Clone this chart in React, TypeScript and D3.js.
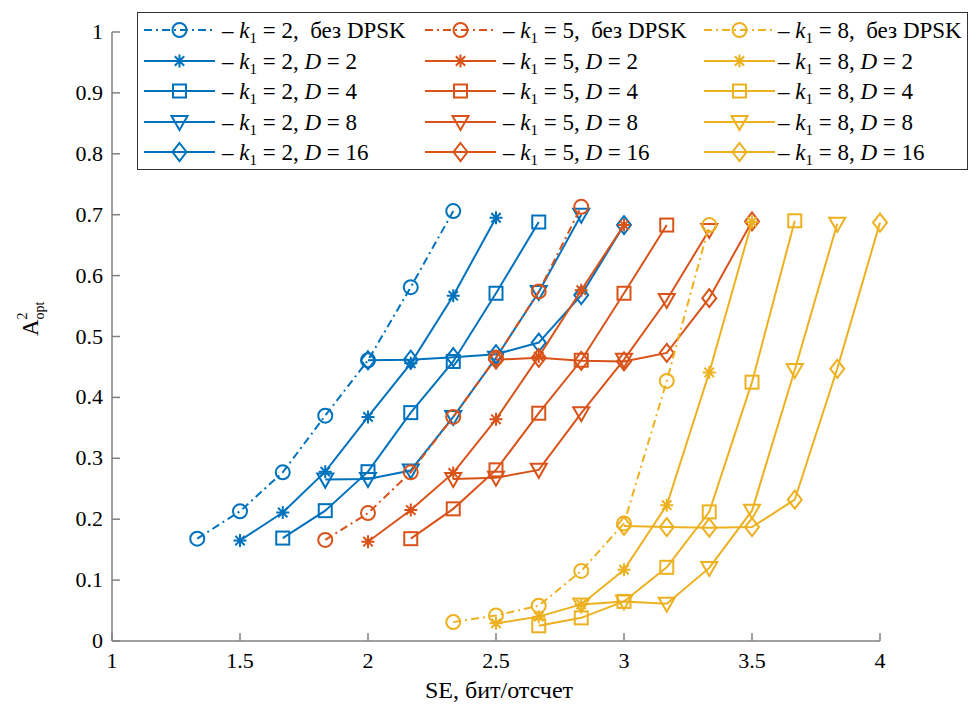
import React from 'react';
import * as d3 from 'd3';

const W = 971;
const H = 708;

const BLUE = '#0072BD';
const ORANGE = '#D95319';
const YELLOW = '#EDB120';

// x tick values / labels
const xTicks = [1, 1.5, 2, 2.5, 3, 3.5, 4];
const xTickLabels = ['1', '1.5', '2', '2.5', '3', '3.5', '4'];
const yTicks = [0, 0.1, 0.2, 0.3, 0.4, 0.5, 0.6, 0.7, 0.8, 0.9, 1];
const yTickLabels = ['0', '0.1', '0.2', '0.3', '0.4', '0.5', '0.6', '0.7', '0.8', '0.9', '1'];

// k1 = 2 (blue)
const xB0 = [1.333, 1.5, 1.667, 1.833, 2.0, 2.167, 2.333];
const yB0 = [0.168, 0.213, 0.277, 0.370, 0.461, 0.581, 0.706];
const xB2 = [1.5, 1.667, 1.833, 2.0, 2.167, 2.333, 2.5];
const yB2 = [0.165, 0.211, 0.278, 0.368, 0.456, 0.567, 0.695];
const xB4 = [1.667, 1.833, 2.0, 2.167, 2.333, 2.5, 2.667];
const yB4 = [0.169, 0.214, 0.278, 0.375, 0.459, 0.571, 0.688];
const xB8 = [1.833, 2.0, 2.167, 2.333, 2.5, 2.667, 2.833];
const yB8 = [0.265, 0.266, 0.280, 0.368, 0.465, 0.573, 0.700];
const xB16 = [2.0, 2.167, 2.333, 2.5, 2.667, 2.833, 3.0];
const yB16 = [0.461, 0.462, 0.466, 0.471, 0.490, 0.568, 0.683];

// k1 = 5 (orange)
const xO0 = [1.833, 2.0, 2.167, 2.333, 2.5, 2.667, 2.833];
const yO0 = [0.166, 0.210, 0.277, 0.368, 0.465, 0.574, 0.713];
const xO2 = [2.0, 2.167, 2.333, 2.5, 2.667, 2.833, 3.0];
const yO2 = [0.163, 0.215, 0.276, 0.364, 0.467, 0.576, 0.683];
const xO4 = [2.167, 2.333, 2.5, 2.667, 2.833, 3.0, 3.167];
const yO4 = [0.168, 0.217, 0.281, 0.374, 0.461, 0.571, 0.683];
const xO8 = [2.333, 2.5, 2.667, 2.833, 3.0, 3.167, 3.333];
const yO8 = [0.266, 0.268, 0.281, 0.374, 0.462, 0.560, 0.675];
const xO16 = [2.5, 2.667, 2.833, 3.0, 3.167, 3.333, 3.5];
const yO16 = [0.462, 0.465, 0.460, 0.459, 0.473, 0.563, 0.689];

// k1 = 8 (yellow)
const xY0 = [2.333, 2.5, 2.667, 2.833, 3.0, 3.167, 3.333];
const yY0 = [0.031, 0.042, 0.058, 0.115, 0.193, 0.427, 0.683];
const xY2 = [2.5, 2.667, 2.833, 3.0, 3.167, 3.333, 3.5];
const yY2 = [0.029, 0.040, 0.060, 0.117, 0.223, 0.441, 0.688];
const xY4 = [2.667, 2.833, 3.0, 3.167, 3.333, 3.5, 3.667];
const yY4 = [0.025, 0.038, 0.065, 0.121, 0.212, 0.425, 0.690];
const xY8 = [2.833, 3.0, 3.167, 3.333, 3.5, 3.667, 3.833];
const yY8 = [0.060, 0.065, 0.061, 0.120, 0.214, 0.445, 0.685];
const xY16 = [3.0, 3.167, 3.333, 3.5, 3.667, 3.833, 4.0];
const yY16 = [0.189, 0.187, 0.186, 0.187, 0.232, 0.447, 0.687];

const k1Values = ['2', '5', '8'];
const dLabels = ['без DPSK', '2', '4', '8', '16'];

type Series = { xs: number[]; ys: number[]; color: string; marker: string; dashed: boolean; k1: string; d: string };

const mk = (xs: number[], ys: number[], color: string, marker: string, dashed: boolean, k1: string, d: string): Series =>
  ({ xs, ys, color, marker, dashed, k1, d });

const columns: Series[][] = [
  [
    mk(xB0, yB0, BLUE, 'o', true, k1Values[0], dLabels[0]),
    mk(xB2, yB2, BLUE, '*', false, k1Values[0], dLabels[1]),
    mk(xB4, yB4, BLUE, 's', false, k1Values[0], dLabels[2]),
    mk(xB8, yB8, BLUE, 'v', false, k1Values[0], dLabels[3]),
    mk(xB16, yB16, BLUE, 'd', false, k1Values[0], dLabels[4]),
  ],
  [
    mk(xO0, yO0, ORANGE, 'o', true, k1Values[1], dLabels[0]),
    mk(xO2, yO2, ORANGE, '*', false, k1Values[1], dLabels[1]),
    mk(xO4, yO4, ORANGE, 's', false, k1Values[1], dLabels[2]),
    mk(xO8, yO8, ORANGE, 'v', false, k1Values[1], dLabels[3]),
    mk(xO16, yO16, ORANGE, 'd', false, k1Values[1], dLabels[4]),
  ],
  [
    mk(xY0, yY0, YELLOW, 'o', true, k1Values[2], dLabels[0]),
    mk(xY2, yY2, YELLOW, '*', false, k1Values[2], dLabels[1]),
    mk(xY4, yY4, YELLOW, 's', false, k1Values[2], dLabels[2]),
    mk(xY8, yY8, YELLOW, 'v', false, k1Values[2], dLabels[3]),
    mk(xY16, yY16, YELLOW, 'd', false, k1Values[2], dLabels[4]),
  ],
];

const FONT = 'Liberation Serif';
const DASH = '8,4,2,4';
const LW = 2;
const NB = '\u00A0';

function Marker({ type, cx, cy, color }: { type: string; cx: number; cy: number; color: string }) {
  const common = { fill: 'none', stroke: color, strokeWidth: LW };
  if (type === 'o') return <circle cx={cx} cy={cy} r={7} {...common} />;
  if (type === 's') return <rect x={cx - 6.5} y={cy - 6.5} width={13} height={13} {...common} />;
  if (type === 'v') {
    const p = `M${cx - 8},${cy - 6} L${cx + 8},${cy - 6} L${cx},${cy + 8} Z`;
    return <path d={p} {...common} />;
  }
  if (type === 'd') {
    const p = `M${cx},${cy - 9} L${cx + 7},${cy} L${cx},${cy + 9} L${cx - 7},${cy} Z`;
    return <path d={p} {...common} />;
  }
  // asterisk
  const r = 6.5;
  const q = r * 0.72;
  const p = `M${cx},${cy - r} L${cx},${cy + r} M${cx - r},${cy} L${cx + r},${cy} M${cx - q},${cy - q} L${cx + q},${cy + q} M${cx - q},${cy + q} L${cx + q},${cy - q}`;
  return <path d={p} fill="none" stroke={color} strokeWidth={LW} />;
}

export default function App() {
  const x = d3.scaleLinear().domain([1, 4]).range([112, 880]);
  const y = d3.scaleLinear().domain([0, 1]).range([641, 32]);
  const line = d3.line<[number, number]>().x((d) => x(d[0])).y((d) => y(d[1]));

  const legendX0 = [144, 425, 704];
  const legendTextX = [222, 503, 778];
  const legendRowY = [30, 61, 91, 122, 152];
  const sampleLen = 71;

  const allSeries = columns.flat();

  return (
    <svg width={W} height={H} fontFamily={FONT} style={{ position: 'absolute', left: 0, top: 0, background: '#fff' }}>
      <style>{`text, tspan { font-family: 'Liberation Serif'; }`}</style>
      <rect x={0} y={0} width={W} height={H} fill="#fff" />
      {/* axes */}
      <line x1={x(1)} x2={x(4)} y1={y(0)} y2={y(0)} stroke="#808080" strokeWidth={1.5} />
      <line x1={x(1)} x2={x(1)} y1={y(0)} y2={y(1)} stroke="#808080" strokeWidth={1.5} />
      {xTicks.map((t, i) => (
        <g key={'xt' + i}>
          <line x1={x(t)} x2={x(t)} y1={y(0)} y2={y(0) - 8} stroke="#808080" strokeWidth={1.5} />
          <text fontFamily={FONT} x={x(t)} y={y(0) + 27} textAnchor="middle" fontSize={22} fill="#000">{xTickLabels[i]}</text>
        </g>
      ))}
      {yTicks.map((t, i) => (
        <g key={'yt' + i}>
          <line x1={x(1)} x2={x(1) + 8} y1={y(t)} y2={y(t)} stroke="#808080" strokeWidth={1.5} />
          <text fontFamily={FONT} x={x(1) - 9} y={y(t) + 7} textAnchor="end" fontSize={22} fill="#000">{yTickLabels[i]}</text>
        </g>
      ))}
      <text fontFamily={FONT} x={(x(1) + x(4)) / 2 + 3} y={698} textAnchor="middle" fontSize={24} fill="#000">SE, бит/отсчет</text>
      <text fontFamily={FONT} transform="translate(38,336) rotate(-90)" fontSize={23} fill="#000">
        A<tspan fontSize={14} dy={-11}>2</tspan><tspan fontSize={14} dx={-7} dy={17}>opt</tspan>
      </text>

      {/* data */}
      {allSeries.map((s, i) => {
        const pts = s.xs.map((v, j) => [v, s.ys[j]] as [number, number]);
        return (
          <g key={'s' + i}>
            <path d={line(pts) || ''} fill="none" stroke={s.color} strokeWidth={LW} strokeDasharray={s.dashed ? DASH : undefined} />
            {pts.map((p, j) => (
              <Marker key={j} type={s.marker} cx={x(p[0])} cy={y(p[1])} color={s.color} />
            ))}
          </g>
        );
      })}

      {/* legend */}
      <rect x={137.5} y={12.5} width={830} height={157} fill="#fff" stroke="#333" strokeWidth={1} />
      {columns.map((col, ci) =>
        col.map((s, ri) => {
          const ly = legendRowY[ri];
          const lx = legendX0[ci];
          return (
            <g key={`l${ci}-${ri}`}>
              <line x1={lx} x2={lx + sampleLen} y1={ly} y2={ly} stroke={s.color} strokeWidth={LW} strokeDasharray={s.dashed ? DASH : undefined} />
              <Marker type={s.marker} cx={lx + sampleLen / 2} cy={ly} color={s.color} />
              <text fontFamily={FONT} x={legendTextX[ci]} y={ly + 8} fontSize={23} fill="#000">
                {'–' + NB}
                <tspan fontStyle="italic">k</tspan>
                <tspan fontSize={15} dy={5}>1</tspan>
                <tspan dy={-5}>{`${NB}=${NB}${s.k1},${NB}`}</tspan>
                {ri === 0 ? (
                  <tspan>{`${NB}${s.d}`}</tspan>
                ) : (
                  <>
                    <tspan fontStyle="italic">D</tspan>
                    <tspan>{`${NB}=${NB}${s.d}`}</tspan>
                  </>
                )}
              </text>
            </g>
          );
        })
      )}
    </svg>
  );
}
